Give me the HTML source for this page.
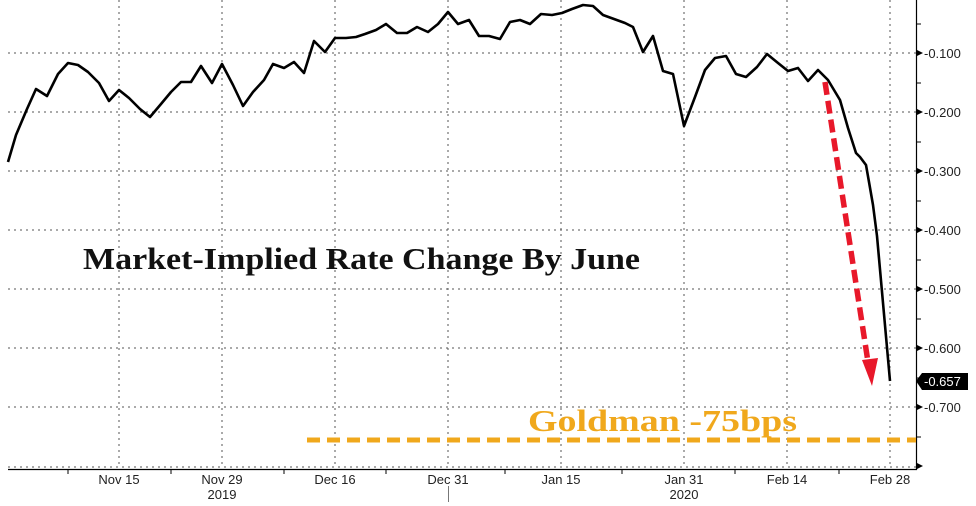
<!DOCTYPE html>
<html><head><meta charset="utf-8"><style>
html,body{margin:0;padding:0;background:#fff;}
svg{display:block;}
</style></head><body>
<svg width="976" height="506" viewBox="0 0 976 506" xmlns="http://www.w3.org/2000/svg">
<rect width="976" height="506" fill="#fff"/>
<g stroke="#555" stroke-width="1" stroke-dasharray="2,4">
<line x1="8" y1="53" x2="916" y2="53"/>
<line x1="8" y1="112" x2="916" y2="112"/>
<line x1="8" y1="171" x2="916" y2="171"/>
<line x1="8" y1="230" x2="916" y2="230"/>
<line x1="8" y1="289" x2="916" y2="289"/>
<line x1="8" y1="348" x2="916" y2="348"/>
<line x1="8" y1="407" x2="916" y2="407"/>
<line x1="8" y1="467" x2="916" y2="467"/>
<line x1="119" y1="0" x2="119" y2="467"/>
<line x1="222" y1="0" x2="222" y2="467"/>
<line x1="335" y1="0" x2="335" y2="467"/>
<line x1="448" y1="0" x2="448" y2="467"/>
<line x1="561" y1="0" x2="561" y2="467"/>
<line x1="684" y1="0" x2="684" y2="467"/>
<line x1="787" y1="0" x2="787" y2="467"/>
<line x1="890" y1="0" x2="890" y2="467"/>
</g>
<line x1="8" y1="469.5" x2="917" y2="469.5" stroke="#000" stroke-width="1.2"/>
<line x1="916.5" y1="0" x2="916.5" y2="470" stroke="#000" stroke-width="1.2"/>
<g stroke="#000" stroke-width="1">
<line x1="68" y1="470" x2="68" y2="474"/><line x1="171" y1="470" x2="171" y2="474"/>
<line x1="284" y1="470" x2="284" y2="474"/><line x1="386" y1="470" x2="386" y2="474"/>
<line x1="505" y1="470" x2="505" y2="474"/><line x1="622" y1="470" x2="622" y2="474"/>
<line x1="735" y1="470" x2="735" y2="474"/><line x1="839" y1="470" x2="839" y2="474"/>
<line x1="916" y1="24" x2="921" y2="24"/><line x1="916" y1="83" x2="921" y2="83"/>
<line x1="916" y1="142" x2="921" y2="142"/><line x1="916" y1="201" x2="921" y2="201"/>
<line x1="916" y1="260" x2="921" y2="260"/><line x1="916" y1="319" x2="921" y2="319"/>
<line x1="916" y1="378" x2="921" y2="378"/><line x1="916" y1="437" x2="921" y2="437"/>
</g>
<g fill="#000">
<polygon points="917,50 923,53 917,56"/><polygon points="917,109 923,112 917,115"/>
<polygon points="917,168 923,171 917,174"/><polygon points="917,227 923,230 917,233"/>
<polygon points="917,286 923,289 917,292"/><polygon points="917,345 923,348 917,351"/>
<polygon points="917,404 923,407 917,410"/><polygon points="917,463 923,466 917,469"/>
</g>
<g font-family="Liberation Sans, sans-serif" font-size="13" fill="#222">
<text x="924" y="58">-0.100</text><text x="924" y="117">-0.200</text>
<text x="924" y="176">-0.300</text><text x="924" y="235">-0.400</text>
<text x="924" y="294">-0.500</text><text x="924" y="353">-0.600</text>
<text x="924" y="412">-0.700</text>
</g>
<polygon points="916,381 922,373 968,373 968,390 922,390" fill="#000"/>
<text x="924" y="386" font-family="Liberation Sans, sans-serif" font-size="13" fill="#fff">-0.657</text>
<g font-family="Liberation Sans, sans-serif" font-size="13" fill="#222" text-anchor="middle">
<text x="119" y="484">Nov 15</text><text x="222" y="484">Nov 29</text>
<text x="222" y="499">2019</text>
<text x="335" y="484">Dec 16</text><text x="448" y="484">Dec 31</text>
<text x="561" y="484">Jan 15</text><text x="684" y="484">Jan 31</text>
<text x="684" y="499">2020</text>
<text x="787" y="484">Feb 14</text><text x="890" y="484">Feb 28</text>
</g>
<line x1="448.5" y1="486" x2="448.5" y2="502" stroke="#777" stroke-width="1"/>
<polyline fill="none" stroke="#000" stroke-width="2.6" stroke-linejoin="round" points="8,162 16,135 27,109 36,89 47,96 58,74 68,63 78,65 88,72 99,83 109,101 119,90 129,98 140,109 150,117 161,104 171,92 181,82 191,82 201,66 212,83 222,64 233,85 243,106 253,92 264,80 273,64 284,68 294,62 304,73 314,41 325,52 335,38 346,38 356,37 365,34 376,30 386,24 397,33 407,33 417,27 428,32 438,24 448,12 458,24 469,20 479,36 489,36 500,39 510,22 520,20 530,24 541,14 552,15 562,13 572,9 583,5 593,6 603,15 614,19 625,23 633,27 643,52 653,36 663,71 673,74 684,126 695,97 705,70 715,58 726,56 736,74 746,77 757,67 767,54 778,63 788,71 798,68 808,81 818,70 828,80 840,100 848,128 856,153 860,157 866,165 869,182 873,205 877,236 890,381"/>
<line x1="307" y1="440" x2="916" y2="440" stroke="#f0a81c" stroke-width="5" stroke-dasharray="13,7"/>
<line x1="825" y1="82" x2="868" y2="362" stroke="#e8182a" stroke-width="5.5" stroke-dasharray="13,6"/>
<polygon points="862,360 878,358 872,386" fill="#e8182a"/>
<text x="83" y="269" font-family="Liberation Serif, serif" font-weight="bold" font-size="31" fill="#111" textLength="557" lengthAdjust="spacingAndGlyphs">Market-Implied Rate Change By June</text>
<text x="528" y="431" font-family="Liberation Serif, serif" font-weight="bold" font-size="31" fill="#f0a81c" textLength="269" lengthAdjust="spacingAndGlyphs">Goldman -75bps</text>
</svg>
</body></html>
